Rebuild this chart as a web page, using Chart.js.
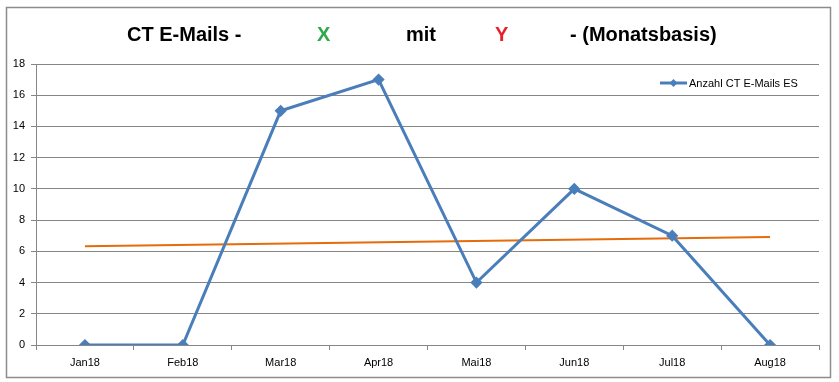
<!DOCTYPE html>
<html><head><meta charset="utf-8">
<script src="https://cdn.jsdelivr.net/npm/chart.js@4"></script>
<style>
html,body{margin:0;padding:0;background:#fff;}
#wrap{position:relative;width:839px;height:382px;}
canvas{position:absolute;left:0;top:0;}
.t{position:absolute;top:20px;font:bold 20px "Liberation Sans",Arial,sans-serif;color:#000;white-space:nowrap;line-height:28px;}
</style></head>
<body>
<div id="wrap">
<canvas id="c" width="839" height="382"></canvas>
<span class="t" style="left:127px">CT E-Mails -</span>
<span class="t" style="left:317px;color:#2EAA4A">X</span>
<span class="t" style="left:406px">mit</span>
<span class="t" style="left:495px;color:#E8202A">Y</span>
<span class="t" style="left:570px">- (Monatsbasis)</span>
</div>
<script>
const categories = ['Jan18','Feb18','Mar18','Apr18','Mai18','Jun18','Jul18','Aug18'];
const emailCounts = [0, 0, 15, 17, 4, 10, 7, 0];
const trendStart = 6.33;
const trendEnd = 6.92;
const yTicks = [0,2,4,6,8,10,12,14,16,18];
const seriesName = 'Anzahl CT E-Mails ES';

const frame = {
  id:'frame',
  beforeDraw(chart){
    const ctx = chart.ctx;
    ctx.save();
    ctx.fillStyle='#fff';
    ctx.fillRect(0,0,chart.width,chart.height);
    ctx.strokeStyle='#8c8c8c';
    ctx.lineWidth=1.5;
    ctx.strokeRect(6.5,7.5,824,370);
    ctx.restore();
  },
  afterDraw(chart){
    const ctx = chart.ctx;
    ctx.save();
    const y = 83, x0 = 660;
    ctx.strokeStyle='#4A7EBB'; ctx.lineWidth=3;
    ctx.beginPath(); ctx.moveTo(x0,y); ctx.lineTo(x0+27,y); ctx.stroke();
    ctx.fillStyle='#4A7EBB';
    ctx.beginPath(); ctx.moveTo(x0+13.5,y-4); ctx.lineTo(x0+17.5,y); ctx.lineTo(x0+13.5,y+4); ctx.lineTo(x0+9.5,y); ctx.closePath(); ctx.fill();
    ctx.fillStyle='#000'; ctx.font='11px "Liberation Sans", Arial, sans-serif';
    ctx.textBaseline='middle'; ctx.textAlign='left';
    ctx.fillText(seriesName, x0+29, y+1);
    ctx.restore();
  }
};

new Chart(document.getElementById('c'), {
  type:'line',
  data:{
    labels:categories,
    datasets:[
      {label:seriesName, data:emailCounts, borderColor:'#4A7EBB', backgroundColor:'#4A7EBB', borderWidth:3,
       pointStyle:'rectRot', pointRadius:4, pointHoverRadius:4, tension:0, order:1},
      {label:'Trend', data:[{x:categories[0],y:trendStart},{x:categories[categories.length-1],y:trendEnd}],
       borderColor:'#E46C0A', backgroundColor:'#E46C0A', borderWidth:2, pointRadius:0, tension:0, order:2}
    ]
  },
  options:{
    responsive:false, animation:false,
    layout:{padding:{left:0,right:20,top:64,bottom:4}},
    plugins:{legend:{display:false}, title:{display:false}, tooltip:{enabled:false}},
    scales:{
      x:{
        offset:true,
        grid:{display:true, drawOnChartArea:false, offset:true, color:'#868686', tickLength:5, drawTicks:true},
        border:{color:'#868686', width:1},
        ticks:{color:'#000', font:{family:'"Liberation Sans", Arial, sans-serif', size:11}, padding:6, maxRotation:0},
        afterFit(s){ s.height = 33; }
      },
      y:{
        min:0, max:18,
        afterBuildTicks(s){ s.ticks = yTicks.map(v=>({value:v})); },
        grid:{color:'#868686', tickLength:5},
        border:{color:'#868686', width:1},
        ticks:{color:'#000', font:{family:'"Liberation Sans", Arial, sans-serif', size:11}, padding:6},
        afterFit(s){ s.width = 36; }
      }
    }
  },
  plugins:[frame]
});
</script>
</body></html>
